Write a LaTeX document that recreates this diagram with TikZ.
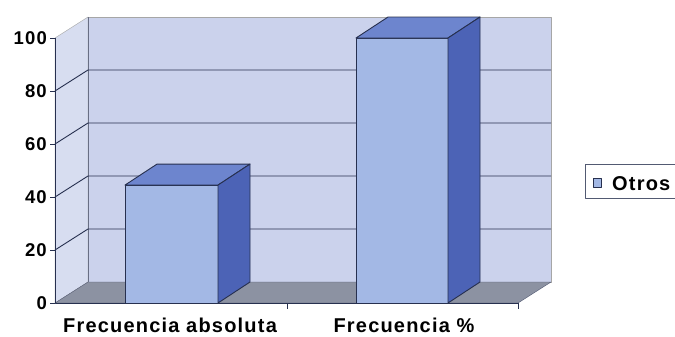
\documentclass[tikz,border=0pt]{standalone}
\usepackage{fontspec}
\newfontfamily\chartfont[LetterSpace=6]{Liberation Sans}
\definecolor{wallback}{HTML}{CBD2EC}
\definecolor{wallside}{HTML}{D7DDF0}
\definecolor{floorgray}{HTML}{8C92A2}
\definecolor{gridline}{HTML}{27304F}
\definecolor{barfront}{HTML}{A3B8E5}
\definecolor{bartop}{HTML}{6D85CE}
\definecolor{barside}{HTML}{4C63B6}

\begin{document}
\begin{tikzpicture}
  [x=1bp,y=-1bp,line join=round,
   ticklab/.style={anchor=east,inner sep=0pt,font=\chartfont\bfseries\fontsize{18.5bp}{20bp}\selectfont},
   catlab/.style={anchor=base,inner sep=0pt,font=\chartfont\bfseries\fontsize{20bp}{22bp}\selectfont},
   face/.style={draw=gridline,line width=0.9bp}]
  \clip (0,0) rectangle (675,336);
  \fill[white] (0,0) rectangle (675,336);

  % walls and floor
  \filldraw[fill=wallback,draw=gray!70] (88,17) rectangle (551,282);
  \filldraw[fill=wallside,draw=gray!70] (55,303) -- (88,282) -- (88,17) -- (55,38) -- cycle;
  \filldraw[fill=floorgray,draw=gridline!80] (55,303) -- (88,282) -- (551,282) -- (518,303) -- cycle;
  \draw[gridline!70] (88,17) -- (88,282);

  % grid lines and ticks
  \foreach \v in {20,40,60,80}
    \draw[gridline,line width=0.9bp] (55,303-2.65*\v) -- ++(33,-21) -- (551,282-2.65*\v);
  \foreach \v in {0,20,...,100}{
    \node[ticklab] (t\v) at (47,303-2.65*\v) {\v};
    \draw[gridline,line width=0.9bp] (50,303-2.65*\v) -- (55,303-2.65*\v);
  }

  % bars
  \foreach \xa/\xb/\val in {125/218/44.5, 356/448/100}{
    \pgfmathsetmacro\yt{303-2.65*\val}
    \filldraw[face,fill=barfront] (\xa,303) rectangle (\xb,\yt);
    \filldraw[face,fill=bartop] (\xa,\yt) -- ++(32,-21) -- ++(\xb-\xa,0) -- (\xb,\yt) -- cycle;
    \filldraw[face,fill=barside] (\xb,303) -- (\xb,\yt) -- ++(32,-21) -- (\xb+32,282) -- cycle;
  }

  % axes
  \draw[gridline,line width=1bp] (55,38) -- (55,303) -- (518,303);
  \draw[gridline,line width=0.9bp] (287,303) -- (287,309) (518,303) -- (518,309);

  \node[catlab] (absoluta) at (170,332) {Frecuencia absoluta};
  \node[catlab] (porcentaje) at (404,332) {Frecuencia \%};

  % legend
  \draw[gridline!80,line width=1bp] (585,164) rectangle (690,198);
  \filldraw[fill=barfront,draw=gridline] (593,178) rectangle (601,187);
  \node[catlab,anchor=base west] (otros) at (612,190) {Otros};
\end{tikzpicture}
\end{document}
